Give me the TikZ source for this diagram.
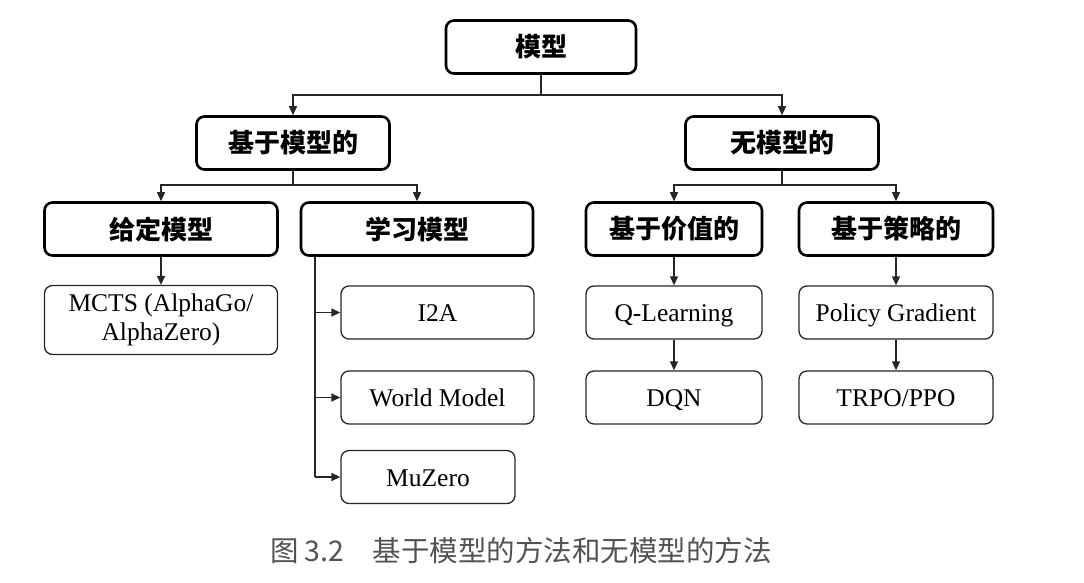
\documentclass[tikz,border=0pt]{standalone}
\usepackage{fontspec}
\setmainfont{Liberation Serif}
\newfontfamily\cjk{Noto Sans CJK SC}
\usetikzlibrary{arrows.meta}
\begin{document}
\begin{tikzpicture}[x=1pt,y=-1pt,
  catbox/.style={draw=black,line width=2.6pt,rounded corners=8pt,minimum height=53pt,inner sep=0pt,font=\cjk\bfseries\fontsize{26}{29}\selectfont},
  leafbox/.style={draw=black!85,line width=1.3pt,rounded corners=8pt,minimum height=53pt,inner sep=0pt,font=\fontsize{25.5}{29}\selectfont,align=center},
  onel/.style={text height=20pt,text depth=2pt},
  conn/.style={line width=1.3pt,draw=black!85},
  arr/.style={conn,-{Triangle[length=9pt,width=8pt]}}]
\useasboundingbox (0,0) rectangle (1084,582);
% category nodes
\node[catbox,minimum width=190pt] (root) at (541,47) {模型};
\node[catbox,minimum width=193pt] (mb) at (293,143) {基于模型的};
\node[catbox,minimum width=193pt] (mf) at (782,143) {无模型的};
\node[catbox,minimum width=233pt] (given) at (161,229) {给定模型};
\node[catbox,minimum width=232pt] (learn) at (417,229) {学习模型};
\node[catbox,minimum width=176pt] (value) at (674,229) {基于价值的};
\node[catbox,minimum width=194pt] (policy) at (896,229) {基于策略的};
% leaf nodes
\node[leafbox,minimum width=233pt,minimum height=69pt] (mcts) at (161,320) {\raisebox{-3pt}{\parbox{200pt}{\centering MCTS (AlphaGo/\\AlphaZero)}}};
\node[leafbox,onel,minimum width=193pt] (i2a) at (437.5,312.5) {I2A};
\node[leafbox,onel,minimum width=193pt] (wm) at (437.5,397.5) {World Model};
\node[leafbox,onel,minimum width=174pt] (mu) at (428,477) {MuZero};
\node[leafbox,onel,minimum width=176pt] (ql) at (674,312.5) {Q-Learning};
\node[leafbox,onel,minimum width=176pt] (dqn) at (674,397.5) {DQN};
\node[leafbox,onel,minimum width=194pt] (pg) at (896,312.5) {Policy Gradient};
\node[leafbox,onel,minimum width=194pt] (trpo) at (896,397.5) {TRPO/PPO};
% connectors
\draw[conn] (root.south) -- (541,95);
\draw[arr] (541,95) -| (mb.north);
\draw[arr] (541,95) -| (mf.north);
\draw[conn] (mb.south) -- (293,185);
\draw[arr] (293,185) -| (given.north);
\draw[arr] (293,185) -| (learn.north);
\draw[conn] (mf.south) -- (782,185);
\draw[arr] (782,185) -| (value.north);
\draw[arr] (782,185) -| (policy.north);
\draw[arr] (given.south) -- (mcts.north);
\draw[conn] (learn.south -| 315,0) -- (315,477);
\draw[arr] (315,312.5) -- (i2a.west);
\draw[arr] (315,397.5) -- (wm.west);
\draw[arr] (315,477) -- (mu.west);
\draw[arr] (value.south) -- (ql.north);
\draw[arr] (ql.south) -- (dqn.north);
\draw[arr] (policy.south) -- (pg.north);
\draw[arr] (pg.south) -- (trpo.north);
% caption
\node[font=\cjk\fontsize{28.5}{32}\selectfont,text=black!68,anchor=center] (cap) at (521,551) {图 3.2\hspace{1em}基于模型的方法和无模型的方法};
\end{tikzpicture}
\end{document}
